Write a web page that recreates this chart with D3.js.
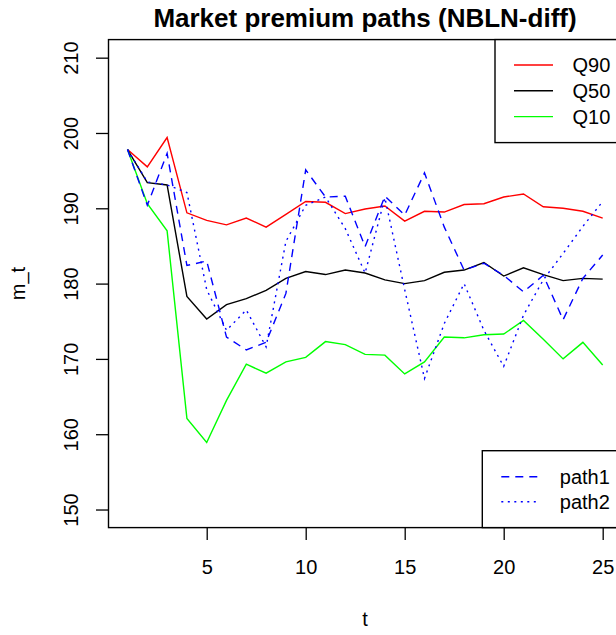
<!DOCTYPE html>
<html>
<head>
	<meta charset="utf-8">
	<script type="text/javascript" src="https://cdn.jsdelivr.net/npm/d3@7/dist/d3.min.js"></script>
	<title>Market premium paths</title>
	<style>
		body { margin: 0; background: #fff; }
		text { font-family: "Liberation Sans", Arial, sans-serif; }
	</style>
</head>
<body>
	<script type="text/javascript">

	// values
	var tValues = [1, 2, 3, 4, 5, 6, 7, 8, 9, 10, 11, 12, 13, 14, 15, 16, 17, 18, 19, 20, 21, 22, 23, 24, 25];
	var q90 = [197.8, 195.5, 199.4, 189.4, 188.4, 187.8, 188.7, 187.5, 189.2, 190.9, 190.8, 189.3, 189.9, 190.3, 188.3, 189.6, 189.5, 190.5, 190.6, 191.5, 191.9, 190.2, 190.0, 189.6, 188.7];
	var q50 = [197.8, 193.4, 193.1, 178.3, 175.3, 177.2, 178.0, 179.1, 180.7, 181.6, 181.2, 181.8, 181.4, 180.5, 180.0, 180.4, 181.5, 181.8, 182.8, 181.0, 182.1, 181.2, 180.4, 180.7, 180.6];
	var q10 = [197.8, 190.6, 187.0, 162.1, 158.9, 164.5, 169.3, 168.1, 169.6, 170.2, 172.3, 171.9, 170.6, 170.5, 168.0, 169.6, 172.9, 172.8, 173.2, 173.3, 175.1, 172.6, 170.0, 172.2, 169.2];
	var path1 = [197.8, 190.4, 197.3, 182.4, 183.0, 172.9, 171.2, 172.2, 178.7, 195.1, 191.5, 191.6, 184.9, 191.6, 189.1, 194.7, 187.5, 181.8, 182.7, 181.1, 178.9, 181.1, 175.2, 180.7, 183.8];
	var path2 = [197.8, 193.5, 193.1, 192.1, 179.2, 173.8, 176.5, 171.6, 185.6, 190.4, 191.5, 187.3, 181.4, 191.4, 179.2, 167.4, 174.7, 180.0, 173.8, 169.0, 175.8, 180.5, 184.0, 187.6, 190.9];

	var xTicks = [5, 10, 15, 20, 25];
	var yTicks = [150, 160, 170, 180, 190, 200, 210];

	var widthSvg = 616;
	var heightSvg = 635;
	var fontSize = 20;

	var svg = d3.select("body")
		.append("svg")
		.attr("width", widthSvg)
		.attr("height", heightSvg);

	// R style: 4% padding around the range
	var xScale = d3.scaleLinear()
		.domain([0.04, 25.96])
		.range([108.5, 621.7]);

	var yScale = d3.scaleLinear()
		.domain([147.6, 212.4])
		.range([527.6, 39.6]);

	var series = [
		{ name: "Q90", values: q90, color: "#ff0000", dash: null },
		{ name: "Q50", values: q50, color: "#000000", dash: null },
		{ name: "Q10", values: q10, color: "#00ff00", dash: null },
		{ name: "path1", values: path1, color: "#0000ff", dash: "8,6" },
		{ name: "path2", values: path2, color: "#0000ff", dash: "2,4.5" }
	];

	var line = d3.line()
		.x(function(d, i) { return xScale(tValues[i]); })
		.y(function(d) { return yScale(d); });

	svg.selectAll(".series")
		.data(series)
		.enter()
		.append("path")
		.attr("class", "series")
		.attr("d", function(d) { return line(d.values); })
		.attr("fill", "none")
		.attr("stroke", function(d) { return d.color; })
		.attr("stroke-width", 1.4)
		.attr("stroke-dasharray", function(d) { return d.dash; });

	// axes
	var xAxis = svg.append("g")
		.attr("transform", "translate(0," + yScale.range()[0] + ")")
		.call(d3.axisBottom(xScale).tickValues(xTicks).tickSize(12.5).tickPadding(19.5));

	var yAxis = svg.append("g")
		.attr("transform", "translate(" + xScale.range()[0] + ",0)")
		.call(d3.axisLeft(yScale).tickValues(yTicks).tickSize(12.5));

	yAxis.selectAll("text")
		.attr("transform", "rotate(-90)")
		.attr("x", 0)
		.attr("y", -31)
		.attr("dy", 0)
		.attr("text-anchor", "middle");

	[xAxis, yAxis].forEach(function(ax) {
		ax.select(".domain").remove();
		ax.selectAll("line").attr("stroke", "#000").attr("stroke-width", 1.3);
		ax.selectAll("text")
			.attr("fill", "#000")
			.attr("font-size", fontSize)
			.attr("font-family", "Liberation Sans, Arial, sans-serif");
	});

	// plot box
	svg.append("rect")
		.attr("x", xScale.range()[0])
		.attr("y", yScale.range()[1])
		.attr("width", xScale.range()[1] - xScale.range()[0])
		.attr("height", yScale.range()[0] - yScale.range()[1])
		.attr("fill", "none")
		.attr("stroke", "#000")
		.attr("stroke-width", 1.4);

	// titles
	svg.append("text")
		.attr("x", 365)
		.attr("y", 27)
		.attr("text-anchor", "middle")
		.attr("font-size", 26)
		.attr("font-weight", "bold")
		.text("Market premium paths (NBLN-diff)");

	svg.append("text")
		.attr("x", 365)
		.attr("y", 626)
		.attr("text-anchor", "middle")
		.attr("font-size", fontSize)
		.text("t");

	svg.append("text")
		.attr("transform", "translate(25,283.5) rotate(-90)")
		.attr("text-anchor", "middle")
		.attr("font-size", fontSize)
		.text("m_t");

	// legends
	function drawLegend(items, box, rowY) {
		var g = svg.append("g");
		g.append("rect")
			.attr("x", box.x)
			.attr("y", box.y)
			.attr("width", box.w)
			.attr("height", box.h)
			.attr("fill", "#fff")
			.attr("stroke", "#000")
			.attr("stroke-width", 1.4);

		var rows = g.selectAll(".row")
			.data(items)
			.enter()
			.append("g")
			.attr("transform", function(d, i) { return "translate(0," + rowY[i] + ")"; });

		rows.append("line")
			.attr("x1", box.x + 19)
			.attr("x2", box.x + 58)
			.attr("stroke", function(d) { return d.color; })
			.attr("stroke-width", 1.4)
			.attr("stroke-dasharray", function(d) { return d.dash; });

		rows.append("text")
			.attr("x", box.x + 77.5)
			.attr("dy", "0.35em")
			.attr("font-size", fontSize)
			.text(function(d) { return d.name; });
	}

	drawLegend(series.slice(0, 3), { x: 495, y: yScale.range()[1], w: 130, h: 103 }, [65, 90.8, 116.6]);
	drawLegend(series.slice(3), { x: 482.3, y: 450.7, w: 145, h: yScale.range()[0] - 450.7 }, [476.7, 501.7]);

	</script>
</body>
</html>
